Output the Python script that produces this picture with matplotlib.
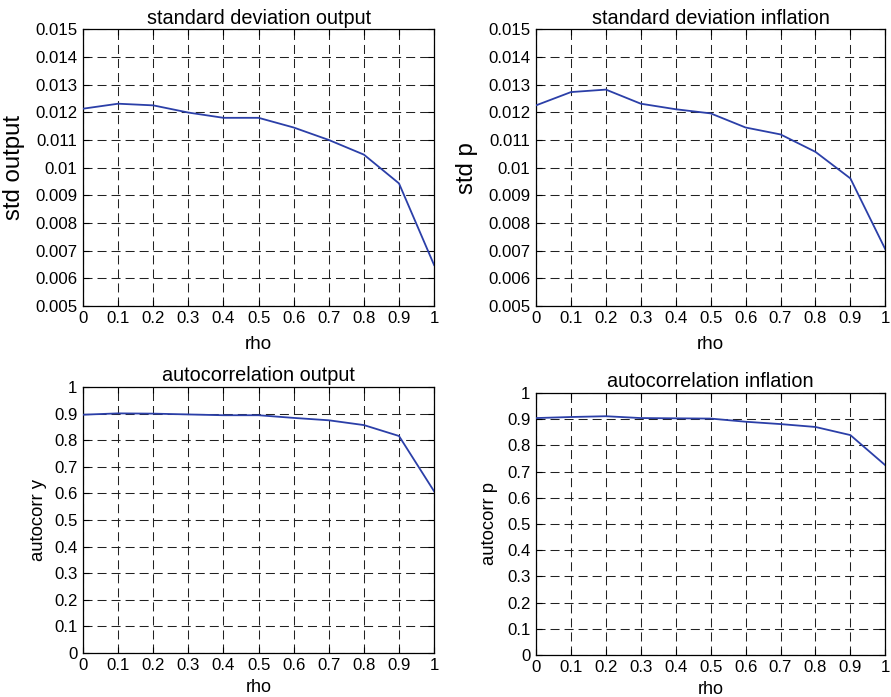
import numpy as np
import matplotlib.pyplot as plt

plt.rcParams['font.family'] = ['Liberation Sans', 'DejaVu Sans']
plt.rcParams['lines.scale_dashes'] = False

rho = [0, 0.1, 0.2, 0.3, 0.4, 0.5, 0.6, 0.7, 0.8, 0.9, 1.0]

std_output = [0.01213, 0.01231, 0.01225, 0.01199, 0.01180, 0.01180,
              0.01145, 0.01100, 0.01047, 0.00943, 0.00648]
std_inflation = [0.01225, 0.01273, 0.01282, 0.01231, 0.01211, 0.01196,
                 0.01145, 0.01120, 0.01057, 0.00961, 0.00705]
acorr_output = [0.896, 0.901, 0.900, 0.897, 0.894, 0.894,
                0.884, 0.875, 0.857, 0.816, 0.608]
acorr_inflation = [0.904, 0.908, 0.911, 0.904, 0.903, 0.902,
                   0.890, 0.881, 0.870, 0.839, 0.724]

x_ticks = [0, 0.1, 0.2, 0.3, 0.4, 0.5, 0.6, 0.7, 0.8, 0.9, 1]
x_ticklabels = ['0', '0.1', '0.2', '0.3', '0.4', '0.5', '0.6', '0.7', '0.8', '0.9', '1']
std_ticks = [0.005, 0.006, 0.007, 0.008, 0.009, 0.010, 0.011, 0.012, 0.013, 0.014, 0.015]
std_ticklabels = ['0.005', '0.006', '0.007', '0.008', '0.009', '0.01',
                  '0.011', '0.012', '0.013', '0.014', '0.015']
ac_ticks = [0, 0.1, 0.2, 0.3, 0.4, 0.5, 0.6, 0.7, 0.8, 0.9, 1]
ac_ticklabels = ['0', '0.1', '0.2', '0.3', '0.4', '0.5', '0.6', '0.7', '0.8', '0.9', '1']

LINE_COLOR = '#2b3fa8'
TICK_FS = 12.1
TITLE_FS = 14.3

fig = plt.figure(figsize=(8.91, 6.97), dpi=100)

panels = [
    # rect, y values, title, ylabel, yticks, yticklabels,
    # ylabel size, ylabel x (right edge, axes coords), xlabel size, xlabel pad
    ([0.0932, 0.561, 0.394, 0.397], std_output, 'standard deviation output',
     'std output', std_ticks, std_ticklabels, 17.3, -0.165, 13.5, 7),
    ([0.6016, 0.561, 0.392, 0.397], std_inflation, 'standard deviation inflation',
     'std p', std_ticks, std_ticklabels, 17.3, -0.166, 13.5, 7),
    ([0.0932, 0.0631, 0.394, 0.3816], acorr_output, 'autocorrelation output',
     'autocorr y', ac_ticks, ac_ticklabels, 13.3, -0.1026, 13.0, 4.5),
    ([0.6016, 0.0603, 0.392, 0.3760], acorr_inflation, 'autocorrelation inflation',
     'autocorr p', ac_ticks, ac_ticklabels, 13.3, -0.109, 13.0, 4.5),
]

for rect, yvals, title, ylabel, yt, ytl, ylfs, ylx, xlfs, xlpad in panels:
    ax = fig.add_axes(rect)
    ax.plot(rho, yvals, color=LINE_COLOR, linewidth=1.3, zorder=3)
    ax.set_xlim(0, 1)
    ax.set_ylim(yt[0], yt[-1])
    ax.set_xticks(x_ticks)
    ax.set_xticklabels(x_ticklabels, fontsize=TICK_FS)
    ax.set_yticks(yt)
    ax.set_yticklabels(ytl, fontsize=TICK_FS)
    ax.tick_params(direction='in', length=4, width=0.8, top=True, right=True,
                   color='black')
    ax.tick_params(axis='x', pad=3.5)
    ax.tick_params(axis='y', pad=4)
    ax.grid(True, color='#222222', linestyle=(0, (6.5, 3.6)), linewidth=0.75)
    for sp in ax.spines.values():
        sp.set_linewidth(0.9)
    ax.set_title(title, fontsize=TITLE_FS, pad=4)
    ax.set_ylabel(ylabel, fontsize=ylfs)
    ax.yaxis.set_label_coords(ylx, 0.5)
    ax.set_xlabel('rho', fontsize=xlfs, labelpad=xlpad)

fig.savefig('out.png', dpi=100)
